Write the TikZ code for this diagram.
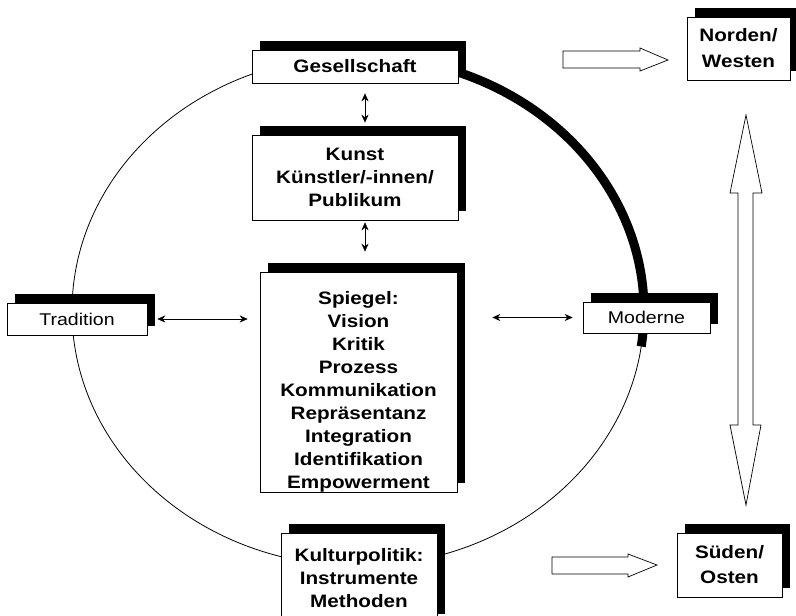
\documentclass[tikz,border=0pt]{standalone}
\usepackage{fontspec}
\setmainfont{Liberation Sans}[FakeStretch=1.15]
\usetikzlibrary{shadows,arrows.meta}
\begin{document}
\begin{tikzpicture}[x=1pt,y=-1pt,
  box/.style={draw=black, line width=0.6pt, fill=white,
    general shadow={shadow xshift=8pt, shadow yshift=9pt, fill=black},
    inner sep=0pt, align=center, font=\bfseries\fontsize{18}{23}\selectfont},
  lightbox/.style={box, font=\fontsize{17}{22}\selectfont},
  dbl/.style={{Stealth[length=8pt,width=7pt]}-{Stealth[length=8pt,width=7pt]}, line width=0.6pt},
  blockarrow/.style={draw=black, line width=0.7pt, fill=white, line join=miter}
]
\clip (0,0) rectangle (796,616);
% ellipse
\draw[line width=0.8pt] (358,311) ellipse [x radius=286, y radius=255];
\draw[line width=9pt] (358,311) ++(-72:286 and 255) arc[start angle=-72, end angle=8, x radius=286, y radius=255];

% boxes
\node[box, minimum width=206pt, minimum height=33pt] (ges) at (355,66.5) {Gesellschaft};
\node[box, minimum width=206pt, minimum height=85pt] (kunst) at (355,177.5) {Kunst\\Künstler/-innen/\\Publikum};
\node[box, minimum width=197pt, minimum height=220pt] (spiegel) at (358.5,382) {\rule{0pt}{32pt}Spiegel:\\Vision\\Kritik\\Prozess\\Kommunikation\\Repräsentanz\\Integration\\Identifikation\\Empowerment};
\node[lightbox, minimum width=140pt, minimum height=32pt] (trad) at (77,319) {Tradition};
\node[lightbox, minimum width=127pt, minimum height=31pt] (mod) at (646.5,317.5) {Moderne};
\node[box, minimum width=103pt, minimum height=63pt, font=\bfseries\fontsize{18}{26}\selectfont] (nord) at (738.5,48.5) {Norden/\\Westen};
\node[box, minimum width=105pt, minimum height=64pt, font=\bfseries\fontsize{18}{25}\selectfont] (sued) at (729.5,565) {Süden/\\Osten};
\node[box, minimum width=156pt, minimum height=90pt] (kultur) at (359,578) {Kulturpolitik:\\Instrumente\\Methoden};

% connectors
\draw[dbl] ([xshift=10pt,yshift=-10pt]ges.south) -- ([xshift=10pt,yshift=12pt]kunst.north);
\draw[dbl] ([xshift=10pt,yshift=-2pt]kunst.south) -- ([xshift=6.5pt,yshift=20pt]spiegel.north);
\draw[dbl, shorten <=10pt, shorten >=12pt] (trad.east) -- (trad.east -| spiegel.west);
\draw[dbl, shorten <=35pt, shorten >=10pt] (mod.west -| spiegel.east) -- (mod.west);

% block arrows
\draw[blockarrow] (563,51) -- (640,51) -- (640,48) -- (668,60) -- (640,71) -- (640,68) -- (563,68) -- cycle;
\draw[blockarrow] (552,557) -- (628,557) -- (628,554) -- (657,565) -- (628,577) -- (628,574) -- (552,574) -- cycle;
\draw[blockarrow] (746,115) -- (762,193) -- (753,193) -- (753,425) -- (761,425) -- (746,505) -- (730,425) -- (738,425) -- (738,193) -- (730,193) -- cycle;
\end{tikzpicture}
\end{document}
